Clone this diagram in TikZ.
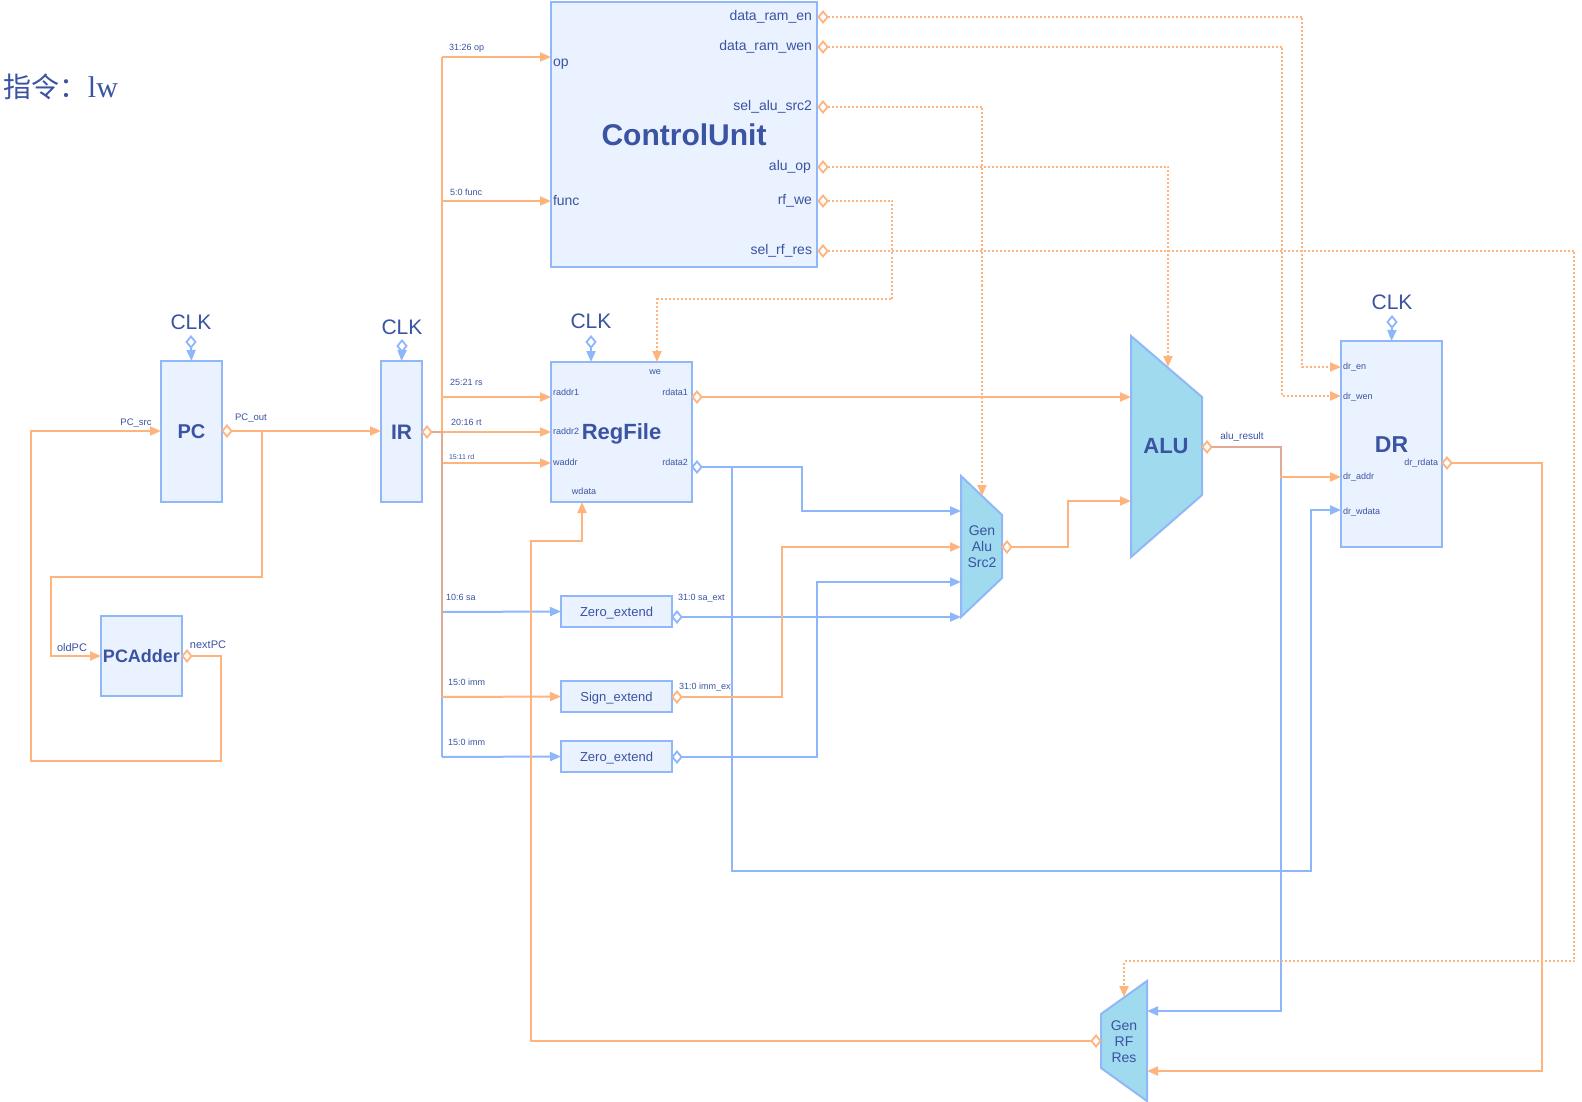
\documentclass[tikz,border=0pt]{standalone}
\usepackage{fontspec}
\setmainfont{Liberation Sans}
\newfontfamily\cjkfont{Noto Sans CJK SC}
\newfontfamily\tmsfont{Liberation Serif}
\usetikzlibrary{arrows.meta,shapes.geometric}
\definecolor{boxfill}{HTML}{EAF2FF}
\definecolor{boxline}{HTML}{90B8F8}
\definecolor{muxfill}{HTML}{A0DAEE}
\definecolor{ow}{HTML}{FFB47E}
\definecolor{bw}{HTML}{8EB6FA}
\definecolor{mixw}{HTML}{E2AA92}
\definecolor{txt}{HTML}{3A53A2}
\newcommand\fsz[1]{\fontsize{#1}{#1}\selectfont}
\newcommand\capstart{\setbox0=\hbox\bgroup}
\newcommand\capend{\egroup\ht0=0.72em\dp0=0pt\box0}
\tikzset{
  x=1pt,y=-1pt,
  box/.style={draw=boxline, fill=boxfill, line width=2.2pt, inner sep=0pt, outer sep=0pt, anchor=north west, text=txt, execute at begin node=\capstart, execute at end node=\capend},
  muxshape/.style={draw=boxline, fill=muxfill, line width=2pt, line join=miter},
  owire/.style={draw=ow, line width=2pt},
  bwire/.style={draw=bw, line width=2pt},
  mwire/.style={draw=mixw, line width=2pt},
  ctrl/.style={draw=ow, line width=2pt, dash pattern=on 2pt off 2pt},
  arr/.style={-{Triangle[length=11pt,width=9pt]}},
  odia/.style={diamond, draw=ow, fill=white, line width=1.8pt, inner sep=0pt, outer sep=0pt, minimum width=9pt, minimum height=11pt},
  bdia/.style={odia, draw=bw},
  lbl/.style={text=txt, inner sep=0pt, outer sep=0pt, execute at begin node=\capstart, execute at end node=\capend},
  mlbl/.style={text=txt, inner sep=0pt, outer sep=0pt, align=center},
}
\begin{document}
\begin{tikzpicture}
\useasboundingbox (0,0) rectangle (1582,1102);
\fill[white] (0,0) rectangle (1582,1102);

% title
\node[lbl, anchor=west, font=\fsz{28}] (title) at (4,87) {{\cjkfont 指令：}{\tmsfont\fsz{30}lw}};

% boxes
\node[box, minimum width=61pt, minimum height=141pt, font=\bfseries\fsz{20}] (pc) at (161,361) {PC};
\node[box, minimum width=41pt, minimum height=141pt, font=\bfseries\fsz{21}] (ir) at (381,361) {IR};
\node[box, minimum width=81pt, minimum height=80pt, font=\bfseries\fsz{18}] (pcadd) at (101,616) {PCAdder};
\node[box, minimum width=266pt, minimum height=265pt, font=\bfseries\fsz{30}] (cu) at (551,2) {ControlUnit};
\node[box, minimum width=141pt, minimum height=140pt, font=\bfseries\fsz{22}] (rf) at (551,362) {RegFile};
\node[box, minimum width=111pt, minimum height=31pt, font=\fsz{13}] (zes) at (561,596) {Zero\_extend};
\node[box, minimum width=111pt, minimum height=31pt, font=\fsz{13}] (se) at (561,681) {Sign\_extend};
\node[box, minimum width=111pt, minimum height=31pt, font=\fsz{13}] (zei) at (561,741) {Zero\_extend};
\node[box, minimum width=101pt, minimum height=206pt, font=\bfseries\fsz{23}] (dr) at (1341,341) {DR};

% muxes
\draw[muxshape] (961,476) -- (1002,515) -- (1002,578) -- (961,617) -- cycle;
\node[mlbl, font=\fontsize{14}{16}\selectfont] (gast) at (982,547) {Gen\\Alu\\Src2};
\draw[muxshape] (1131,336) -- (1202,397) -- (1202,495) -- (1131,557) -- cycle;
\node[lbl, font=\bfseries\fsz{22}] (alut) at (1166,446) {ALU};
\draw[muxshape] (1101,1014) -- (1147,981) -- (1147,1101) -- (1101,1068) -- cycle;
\node[mlbl, font=\fontsize{14}{16}\selectfont] (grt) at (1124,1042) {Gen\\RF\\Res};

% port coordinates
\coordinate (cuop) at (551,57);
\coordinate (cufunc) at (551,201);
\coordinate (rfra1) at (551,397);
\coordinate (rfra2) at (551,432);
\coordinate (rfwa) at (551,463);
\coordinate (rfwe) at (657,362);
\coordinate (rfwd) at (582,502);
\coordinate (rfclk) at (591,362);
\coordinate (gasin1) at (961,511);
\coordinate (gasin2) at (961,547);
\coordinate (gasin3) at (961,582);
\coordinate (gasin4) at (961,617);
\coordinate (gasctl) at (982,496);
\coordinate (alua) at (1131,397);
\coordinate (alub) at (1131,501);
\coordinate (aluctl) at (1168,367);
\coordinate (dren) at (1341,367);
\coordinate (drwen) at (1341,396);
\coordinate (draddr) at (1341,477);
\coordinate (drwd) at (1341,510);
\coordinate (grin1) at (1147,1011);
\coordinate (grin2) at (1147,1071);
\coordinate (grctl) at (1124,997);

% CLK inputs
\node[lbl, font=\fsz{21}] (clkpct) at (191,322) {CLK};
\node[bdia] (ckpc) at (191,342) {};
\draw[bwire,arr] (ckpc.south) -- (pc.north);
\node[lbl, font=\fsz{21}] (clkirt) at (402,327) {CLK};
\node[bdia] (ckir) at (402,346) {};
\draw[bwire,arr] (ckir.south) -- (ir.north);
\node[lbl, font=\fsz{21}] (clkrft) at (591,321) {CLK};
\node[bdia] (ckrf) at (591,342) {};
\draw[bwire,arr] (ckrf.south) -- (rfclk);
\node[lbl, font=\fsz{21}] (clkdrt) at (1392,302) {CLK};
\node[bdia] (ckdr) at (1392,322) {};
\draw[bwire,arr] (ckdr.south) -- (dr.north);

% PC loop
\node[odia] (pcout) at (227,431) {};
\node[odia] (npc) at (187,656) {};
\draw[owire,arr] (pcout.east) -- (ir.west |- pcout);
\draw[owire,arr] (pcout.east) -- (262,431) -- (262,577) -- (51,577) -- (51,656) -- (pcadd.west);
\draw[owire,arr] (npc.east) -- (221,656) -- (221,761) -- (31,761) -- (31,431) -- (pc.west |- pcout);
\node[lbl, font=\fsz{9.5}] (pcsrcl) at (136,422) {PC\_src};
\node[lbl, font=\fsz{9.5}] (pcoutl) at (251,417) {PC\_out};
\node[lbl, font=\fsz{11}] (oldpcl) at (72,648) {oldPC};
\node[lbl, font=\fsz{11}] (npcl) at (208,645) {nextPC};

% IR bus
\node[odia] (irout) at (427,432) {};
\draw[bwire] (442,432) -- (442,757);
\draw[bwire,arr] (442,612) -- (zes.west);
\draw[bwire,arr] (442,757) -- (zei.west);
\draw[owire] (442,57) -- (442,697);
\draw[owire,arr] (442,57) -- (cuop);
\draw[owire,arr] (442,201) -- (cufunc);
\draw[owire,arr] (442,397) -- (rfra1);
\draw[owire,arr] (irout.east) -- (rfra2);
\draw[owire,arr] (442,463) -- (rfwa);
\draw[owire,arr] (442,697) -- (se.west);
\draw[mwire] (irout.east) -- (442,432) -- (442,696);

\node[lbl, anchor=west, font=\fsz{9}] (l1) at (449,47) {31:26 op};
\node[lbl, anchor=west, font=\fsz{9}] (l2) at (450,192) {5:0 func};
\node[lbl, anchor=west, font=\fsz{9}] (l3) at (450,382) {25:21 rs};
\node[lbl, anchor=west, font=\fsz{9}] (l4) at (451,422) {20:16 rt};
\node[lbl, anchor=west, font=\fsz{7}] (l5) at (449,457) {15:11 rd};
\node[lbl, anchor=west, font=\fsz{9}] (l6) at (446,597) {10:6 sa};
\node[lbl, anchor=west, font=\fsz{9}] (l7) at (448,682) {15:0 imm};
\node[lbl, anchor=west, font=\fsz{9}] (l8) at (448,742) {15:0 imm};
\node[lbl, anchor=west, font=\fsz{9}] (l9) at (678,597) {31:0 sa\_ext};
\node[lbl, anchor=west, font=\fsz{9}] (l10) at (679,686) {31:0 imm\_ext};

% ControlUnit port labels
\node[lbl, anchor=west, font=\fsz{14}] (pop) at (553,61) {op};
\node[lbl, anchor=west, font=\fsz{14}] (pfunc) at (553,200) {func};
\node[lbl, anchor=east, font=\fsz{14}] (p1) at (812,15) {data\_ram\_en};
\node[lbl, anchor=east, font=\fsz{14}] (p2) at (812,45) {data\_ram\_wen};
\node[lbl, anchor=east, font=\fsz{14}] (p3) at (812,105) {sel\_alu\_src2};
\node[lbl, anchor=east, font=\fsz{14}] (p4) at (811,165) {alu\_op};
\node[lbl, anchor=east, font=\fsz{14}] (p5) at (812,199) {rf\_we};
\node[lbl, anchor=east, font=\fsz{14}] (p6) at (812,249) {sel\_rf\_res};

% RegFile port labels
\node[lbl, anchor=west, font=\fsz{9}] (rp1) at (553,392) {raddr1};
\node[lbl, anchor=west, font=\fsz{9}] (rp2) at (553,431) {raddr2};
\node[lbl, anchor=west, font=\fsz{9}] (rp3) at (553,462) {waddr};
\node[lbl, anchor=east, font=\fsz{9}] (rp4) at (688,392) {rdata1};
\node[lbl, anchor=east, font=\fsz{9}] (rp5) at (688,462) {rdata2};
\node[lbl, font=\fsz{9}] (rp6) at (655,371) {we};
\node[lbl, font=\fsz{9}] (rp7) at (584,491) {wdata};

% DR port labels
\node[lbl, anchor=west, font=\fsz{9}] (dp1) at (1343,366) {dr\_en};
\node[lbl, anchor=west, font=\fsz{9}] (dp2) at (1343,396) {dr\_wen};
\node[lbl, anchor=west, font=\fsz{9}] (dp3) at (1343,476) {dr\_addr};
\node[lbl, anchor=west, font=\fsz{9}] (dp4) at (1343,511) {dr\_wdata};
\node[lbl, anchor=east, font=\fsz{9}] (dp5) at (1438,462) {dr\_rdata};

% RegFile outputs
\node[odia] (rd1) at (697,397) {};
\node[bdia] (rd2) at (697,467) {};
\draw[owire,arr] (rd1.east) -- (alua);
\draw[bwire,arr] (rd2.east) -- (802,467) -- (802,511) -- (gasin1);
\draw[bwire,arr] (rd2.east) -- (732,467) -- (732,871) -- (1311,871) -- (1311,510) -- (drwd);

% extender outputs
\node[bdia] (saext) at (677,617) {};
\node[odia] (immext) at (677,697) {};
\node[bdia] (zimm) at (677,757) {};
\draw[bwire,arr] (saext.east) -- (gasin4);
\draw[owire,arr] (immext.east) -- (782,697) -- (782,547) -- (gasin2);
\draw[bwire,arr] (zimm.east) -- (817,757) -- (817,582) -- (gasin3);

% GenAluSrc2 output
\node[odia] (gasout) at (1007,547) {};
\draw[owire,arr] (gasout.east) -- (1068,547) -- (1068,501) -- (alub);

% ALU output
\node[odia] (alures) at (1207,447) {};
\draw[bwire,arr] (alures.east) -- (1281,447) -- (1281,1011) -- (grin1);
\draw[owire,arr] (alures.east) -- (1281,447) -- (1281,477) -- (draddr);
\draw[mwire] (alures.east) -- (1281,447) -- (1281,476);
\node[lbl, font=\fsz{10}] (alurl) at (1242,436) {alu\_result};

% DR output
\node[odia] (drrd) at (1447,463) {};
\draw[owire,arr] (drrd.east) -- (1542,463) -- (1542,1071) -- (grin2);

% GenRFRes output
\node[odia] (grout) at (1096,1041) {};
\draw[owire,arr] (grout.west) -- (531,1041) -- (531,541) -- (582,541) -- (rfwd);

% control signals
\node[odia] (c1) at (823,17) {};
\node[odia] (c2) at (823,47) {};
\node[odia] (c3) at (823,107) {};
\node[odia] (c4) at (823,167) {};
\node[odia] (c5) at (823,201) {};
\node[odia] (c6) at (823,251) {};
\draw[ctrl,arr] (c1.east) -- (1302,17) -- (1302,367) -- (dren);
\draw[ctrl,arr] (c2.east) -- (1282,47) -- (1282,396) -- (drwen);
\draw[ctrl,arr] (c3.east) -- (982,107) -- (gasctl);
\draw[ctrl,arr] (c4.east) -- (1168,167) -- (aluctl);
\draw[ctrl,arr] (c5.east) -- (892,201) -- (892,299) -- (657,299) -- (rfwe);
\draw[ctrl,arr] (c6.east) -- (1574,251) -- (1574,961) -- (1124,961) -- (grctl);
\end{tikzpicture}
\end{document}
